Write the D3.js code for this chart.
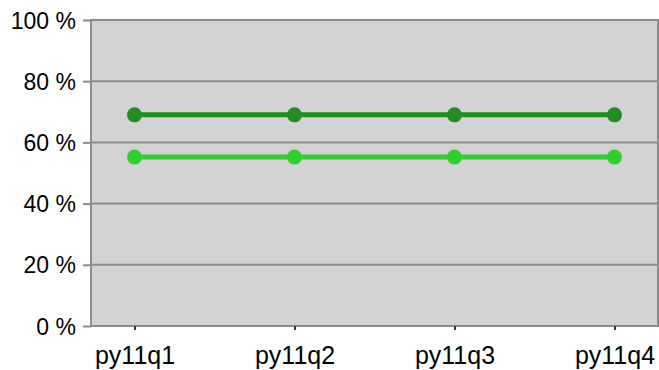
<!DOCTYPE html>
<html>
<head>
<style>
	body { margin: 0; background: #fff; font-family: "Liberation Sans", Arial, sans-serif; }
</style>
</head>
<body>
<script src="https://d3js.org/d3.v7.min.js"></script>
<script>
	var quarters = ["py11q1", "py11q2", "py11q3", "py11q4"];
	var seriesDark = [69, 69, 69, 69];
	var seriesLight = [55.2, 55.2, 55.2, 55.2];
	var yTicks = [0, 20, 40, 60, 80, 100];

	var margin = {top: 20, right: 1, bottom: 44, left: 91},
		width = 659 - margin.left - margin.right,
		height = 370 - margin.top - margin.bottom;

	var svg = d3.select("body").append("svg")
		.attr("width", 659).attr("height", 370)
		.append("g")
		.attr("transform", "translate(" + margin.left + "," + margin.top + ")");

	var x = d3.scalePoint().domain(quarters).range([0, width]).padding(0.272);
	var y = d3.scaleLinear().domain([0, 100]).range([height, 0]);

	// plot background
	svg.append("rect").attr("width", width).attr("height", height).attr("fill", "#d3d3d3");

	// grid lines
	svg.selectAll(".grid").data(yTicks).enter().append("line")
		.attr("x1", 0).attr("x2", width)
		.attr("y1", function(d) { return y(d); }).attr("y2", function(d) { return y(d); })
		.attr("stroke", "#8c8c8c").attr("stroke-width", 2);

	// frame
	svg.append("rect").attr("width", width).attr("height", height)
		.attr("fill", "none").attr("stroke", "#8c8c8c").attr("stroke-width", 2);

	// y axis
	var yAxis = svg.append("g")
		.call(d3.axisLeft(y).tickValues(yTicks).tickSize(8).tickPadding(7).tickFormat(function(d) { return d + " %"; }));
	yAxis.select(".domain").remove();
	yAxis.selectAll("line").attr("stroke", "#8c8c8c").attr("stroke-width", 2);
	yAxis.selectAll("text").style("font-size", "23px").style("fill", "#000").attr("dy", "0.35em");

	// x axis
	var xAxis = svg.append("g").attr("transform", "translate(0," + height + ")")
		.call(d3.axisBottom(x).tickSize(4).tickPadding(0));
	xAxis.select(".domain").remove();
	xAxis.selectAll("line").attr("stroke", "#333").attr("stroke-width", 2);
	xAxis.selectAll("text").style("font-size", "25px").style("fill", "#000")
		.attr("dy", null).attr("y", 38);

	var series = [
		{values: seriesDark, color: "#228b22"},
		{values: seriesLight, color: "#32cd32"}
	];

	var line = d3.line()
		.x(function(d, i) { return x(quarters[i]); })
		.y(function(d) { return y(d); });

	series.forEach(function(s) {
		svg.append("path").datum(s.values)
			.attr("d", line).attr("fill", "none")
			.attr("stroke", s.color).attr("stroke-width", 5);
		svg.selectAll(null).data(s.values).enter().append("circle")
			.attr("cx", function(d, i) { return x(quarters[i]); })
			.attr("cy", function(d) { return y(d); })
			.attr("r", 7.5).attr("fill", s.color);
	});
</script>
</body>
</html>
